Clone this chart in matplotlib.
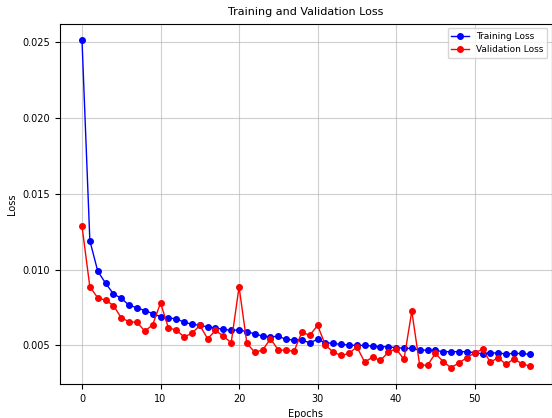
import matplotlib
matplotlib.use('Agg')
import matplotlib.pyplot as plt

# loss values, one per epoch (0..57)
train_loss = [
    0.0251, 0.0119, 0.0099, 0.0091, 0.0084, 0.0081, 0.00765, 0.00748, 0.0073, 0.0071,
    0.00689, 0.0068, 0.00676, 0.00653, 0.0064, 0.00632, 0.00623, 0.00614, 0.00607, 0.00599,
    0.00603, 0.0059, 0.00577, 0.00561, 0.00557, 0.0056, 0.0054, 0.00535, 0.00535, 0.00518,
    0.0054, 0.00518, 0.00513, 0.00507, 0.00502, 0.005, 0.005, 0.00496, 0.00493, 0.00491,
    0.00485, 0.00482, 0.0048, 0.00469, 0.00469, 0.00467, 0.00459, 0.00459, 0.00459, 0.00459,
    0.00452, 0.00445, 0.00452, 0.00449, 0.00445, 0.00447, 0.00447, 0.00441,
]
val_loss = [
    0.01285, 0.00886, 0.00814, 0.00798, 0.00763, 0.00682, 0.00656, 0.00653, 0.00594, 0.00636,
    0.0078, 0.00616, 0.00601, 0.00557, 0.00579, 0.00632, 0.00544, 0.00599, 0.00561, 0.00518,
    0.00886, 0.00513, 0.00456, 0.00469, 0.00544, 0.00469, 0.00469, 0.00461, 0.00588, 0.00566,
    0.00632, 0.00502, 0.00456, 0.00434, 0.00447, 0.00491, 0.0039, 0.00423, 0.00401, 0.00456,
    0.00478, 0.00408, 0.00726, 0.0037, 0.0037, 0.00447, 0.00393, 0.00353, 0.00386, 0.00419,
    0.00452, 0.00474, 0.0039, 0.00419, 0.00375, 0.00412, 0.0038, 0.00364,
]
epochs = list(range(len(train_loss)))

plt.rcParams['font.size'] = 7

fig = plt.figure(figsize=(5.52, 4.18), dpi=100)
ax = fig.add_axes([0.108, 0.081, 0.892, 0.862])

ax.plot(epochs, train_loss, 'b-o', markersize=4, linewidth=1, label='Training Loss')
ax.plot(epochs, val_loss, 'r-o', markersize=4, linewidth=1, label='Validation Loss')

ax.set_title('Training and Validation Loss', fontsize=8)
ax.set_xlabel('Epochs')
ax.set_ylabel('Loss')
ax.grid(True, color='#b0b0b0', alpha=0.6)
ax.legend(loc='upper right', fontsize=6.5)

fig.savefig('out.png', dpi=100)
